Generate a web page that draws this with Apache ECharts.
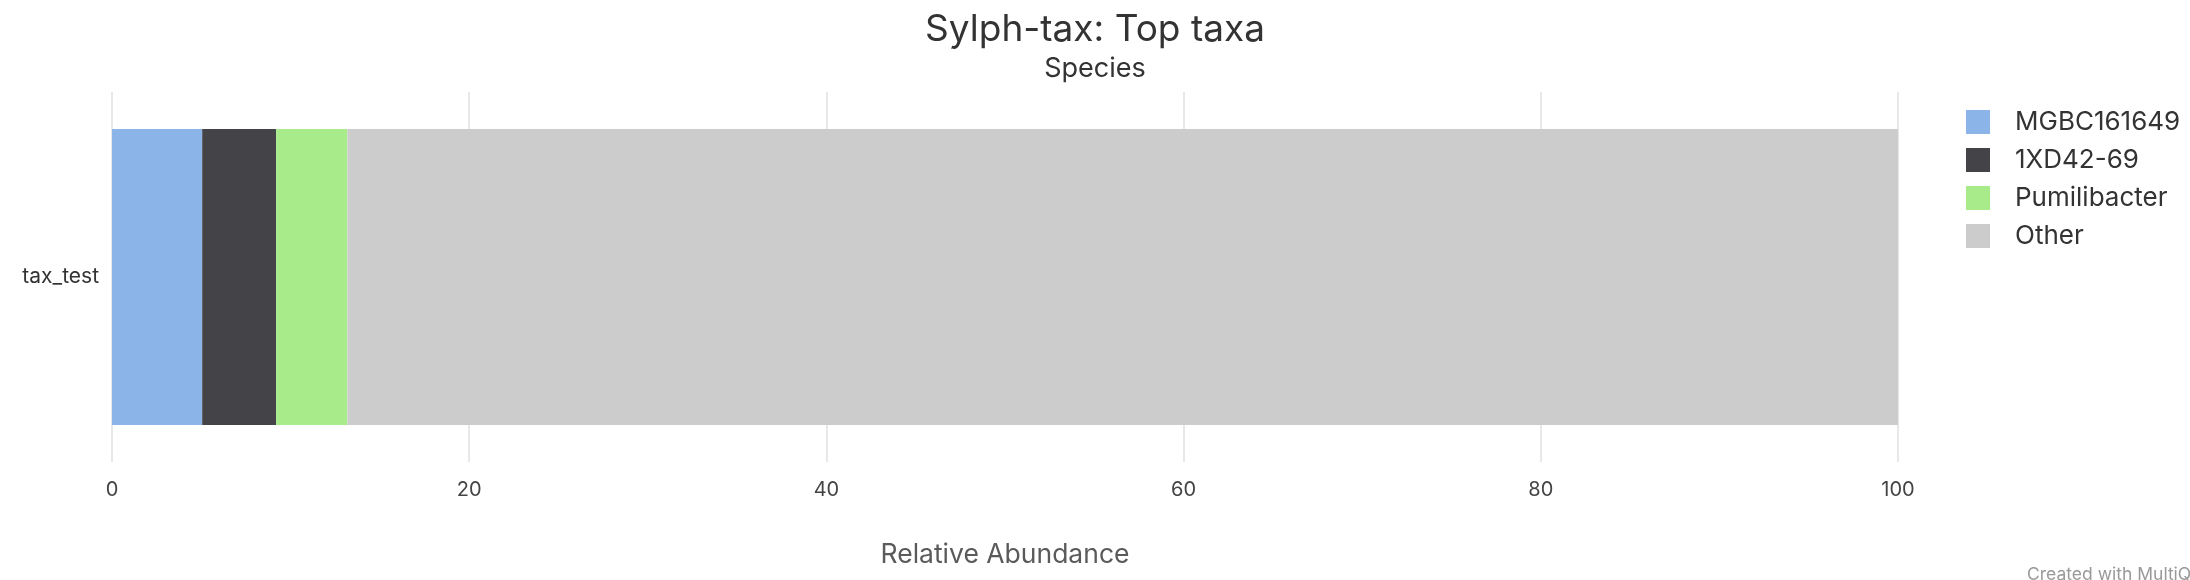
<!DOCTYPE html>
<html>
<head>
<meta charset="utf-8">
<script src="https://cdn.jsdelivr.net/npm/echarts@6/dist/echarts.min.js"></script>
<style>
  html, body { margin: 0; padding: 0; background: #ffffff; }
  #chart { width: 2190px; height: 580px; }
</style>
</head>
<body>
<div id="chart"></div>
<script>
const categories = ['tax_test'];
const seriesNames = ['MGBC161649', '1XD42-69', 'Pumilibacter', 'Other'];
const mgbc161649 = [5.05];
const xd4269 = [4.14];
const pumilibacter = [3.99];
const other = [86.82];
const xTicks = [0, 20, 40, 60, 80, 100];

const seriesValues = [mgbc161649, xd4269, pumilibacter, other];
const colors = ['#8bb4e8', '#434348', '#a7eb8a', '#cccccc'];
const FONT = 'Inter, "Noto Sans", sans-serif';

const chart = echarts.init(document.getElementById('chart'));
chart.setOption({
  animation: false,
  backgroundColor: '#ffffff',
  textStyle: { fontFamily: FONT },
  title: [
    { text: 'Sylph-tax: Top taxa', left: 'center', top: 6,
      textStyle: { fontFamily: FONT, fontSize: 37, fontWeight: 'normal', color: '#333333' } },
    { text: 'Species', left: 'center', top: 50,
      textStyle: { fontFamily: FONT, fontSize: 27, fontWeight: 'normal', color: '#333333' } }
  ],
  legend: {
    orient: 'vertical',
    left: 1961,
    top: 104,
    itemWidth: 24,
    itemHeight: 24,
    itemGap: 12,
    icon: 'rect',
    data: seriesNames,
    textStyle: { fontFamily: FONT, fontSize: 26, color: '#333333', padding: [0, 0, 0, 20] }
  },
  grid: { left: 112, right: 292, top: 92, bottom: 118, containLabel: false },
  xAxis: {
    type: 'value',
    min: 0, max: 100, interval: 20,
    name: 'Relative Abundance',
    nameLocation: 'middle',
    nameGap: 80,
    nameTextStyle: { fontFamily: FONT, fontSize: 26.5, color: '#5a5a5a' },
    axisLine: { show: false },
    axisTick: { show: false },
    axisLabel: {
      fontFamily: FONT, fontSize: 20, color: '#444444', margin: 18,
      formatter: v => xTicks.includes(v) ? String(v) : ''
    },
    splitLine: { show: true, lineStyle: { color: '#e8e8e8', width: 2 } }
  },
  yAxis: {
    type: 'category',
    data: categories,
    axisLine: { show: false },
    axisTick: { show: false },
    axisLabel: { fontFamily: FONT, fontSize: 21, color: '#333333', margin: 13 },
    splitLine: { show: false }
  },
  series: seriesNames.map((name, i) => ({
    name: name,
    type: 'bar',
    stack: 'total',
    barCategoryGap: '20%',
    itemStyle: { color: colors[i] },
    emphasis: { disabled: true },
    data: seriesValues[i]
  })),
  graphic: [
    { type: 'text', left: 2027, top: 566,
      style: { text: 'Created with MultiQC', fontFamily: FONT, fontSize: 17.5, fill: '#999999' } }
  ]
});
</script>
</body>
</html>
